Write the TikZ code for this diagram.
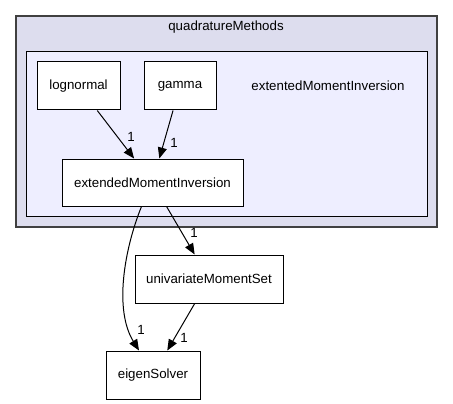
\documentclass[tikz,border=0pt]{standalone}
\usepackage{fontspec}
\setmainfont{Liberation Sans}
\usetikzlibrary{arrows.meta,positioning}
\definecolor{OuterBG}{HTML}{DDDDEE}
\definecolor{InnerBG}{HTML}{EEEEFF}
\definecolor{FrameGrey}{HTML}{404040}

\begin{document}
\begin{tikzpicture}[x=1pt,y=-1pt,
    every node/.style={font=\fontsize{13.3}{15}\selectfont},
    dirbox/.style={draw, fill=white, line width=1pt, inner sep=0pt},
    dep/.style={-{Triangle[length=11pt,width=9pt]}, line width=1pt},
    cnt/.style={inner sep=0pt}]
  \useasboundingbox (0,0) rectangle (453,404);
  % enclosing directories
  \draw[FrameGrey, line width=1.5pt, fill=OuterBG] (16,16) rectangle (437,227);
  \node (outerlbl) at (226,27) {quadratureMethods};
  \draw[black, line width=1pt, fill=InnerBG] (26,52) rectangle (427,216);
  \node (innerlbl) at (328,86) {extentedMomentInversion};
  % directories
  \node[dirbox, minimum width=83, minimum height=48] (lognormal) at (78.5,86) {lognormal};
  \node[dirbox, minimum width=72, minimum height=48] (gamma) at (180,86) {gamma};
  \node[dirbox, minimum width=181, minimum height=47] (extmi) at (152.5,182.5) {extendedMomentInversion};
  \node[dirbox, minimum width=148, minimum height=48] (univ) at (209,279) {univariateMomentSet};
  \node[dirbox, minimum width=94, minimum height=48] (eigen) at (153,375) {eigenSolver};
  % dependencies
  \draw[dep] (lognormal) -- (extmi);
  \node[cnt] (c1) at (131,137) {1};
  \draw[dep] (gamma) -- (extmi);
  \node[cnt] (c2) at (174,143) {1};
  \draw[dep] (extmi) -- (univ);
  \node[cnt] (c3) at (194,233) {1};
  \draw[dep] ([xshift=-11pt]extmi.south) .. controls (124,250) and (114,310) .. ([xshift=-14pt]eigen.north);
  \node[cnt] (c4) at (141,330) {1};
  \draw[dep] (univ) -- (eigen);
  \node[cnt] (c5) at (184,338) {1};
\end{tikzpicture}
\end{document}
